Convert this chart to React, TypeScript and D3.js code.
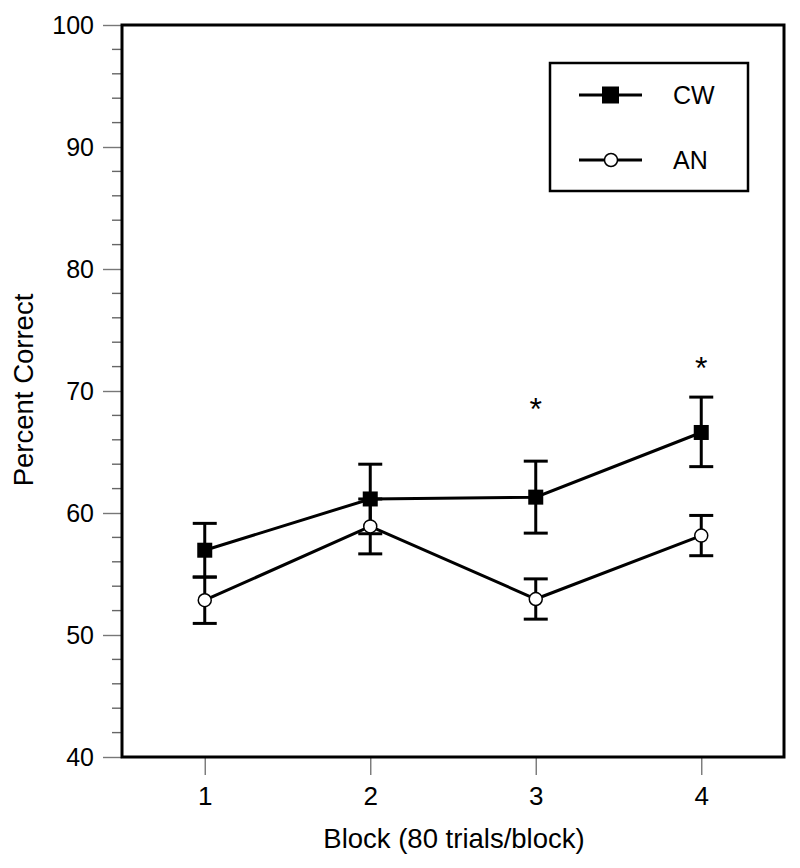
import * as d3 from "d3";
import { useEffect, useRef } from "react";

const blocks = [1, 2, 3, 4];
const cwMean = [56.95, 61.15, 61.3, 66.6];
const cwLow = [54.75, 58.3, 58.35, 63.8];
const cwHigh = [59.15, 64.0, 64.25, 69.5];
const anMean = [52.85, 58.9, 52.95, 58.15];
const anLow = [50.95, 56.65, 51.3, 56.5];
const anHigh = [54.75, 61.15, 54.6, 59.8];
const significant = [3, 4];
const yTicks = [40, 50, 60, 70, 80, 90, 100];
const legendNames = ["CW", "AN"];

const App = () => {
  const ref = useRef<SVGSVGElement>(null);

  useEffect(() => {
    const width = 800;
    const height = 868;
    const margin = { top: 25, right: 16, bottom: 111, left: 122 };
    const font = "Arial, 'Liberation Sans', sans-serif";

    const svg = d3.select(ref.current);
    svg.selectAll("*").remove();
    svg.attr("width", width).attr("height", height);

    const x = d3.scaleLinear().domain([0.5, 4.5]).range([margin.left, width - margin.right]);
    const y = d3.scaleLinear().domain([40, 100]).range([height - margin.bottom, margin.top]);

    // y axis ticks: major every 10, minor every 2
    const minor = d3.range(40, 100.1, 2).filter((v) => v % 10 !== 0);
    svg.append("g")
      .selectAll("line.minor")
      .data(minor)
      .enter().append("line")
      .attr("x1", margin.left - 10).attr("x2", margin.left)
      .attr("y1", (d) => y(d)).attr("y2", (d) => y(d))
      .attr("stroke", "#666").attr("stroke-width", 1.4);

    const yAxis = d3.axisLeft(y).tickValues(yTicks).tickSize(19).tickPadding(9);
    const gy = svg.append("g")
      .attr("transform", `translate(${margin.left},0)`)
      .call(yAxis);
    gy.select(".domain").remove();
    gy.selectAll("line").attr("stroke", "#777").attr("stroke-width", 1.4);
    gy.selectAll("text").attr("font-family", font).attr("font-size", 25).attr("fill", "#000");

    const xAxis = d3.axisBottom(x).tickValues(blocks).tickFormat(d3.format("d")).tickSize(18).tickPadding(12);
    const gx = svg.append("g")
      .attr("transform", `translate(0,${height - margin.bottom})`)
      .call(xAxis);
    gx.select(".domain").remove();
    gx.selectAll("line").attr("stroke", "#777").attr("stroke-width", 1.4);
    gx.selectAll("text").attr("font-family", font).attr("font-size", 26).attr("fill", "#000");

    // frame
    svg.append("rect")
      .attr("x", margin.left).attr("y", margin.top)
      .attr("width", width - margin.left - margin.right)
      .attr("height", height - margin.top - margin.bottom)
      .attr("fill", "none").attr("stroke", "#000").attr("stroke-width", 3);

    // axis titles
    svg.append("text")
      .attr("x", 454)
      .attr("y", 848)
      .attr("text-anchor", "middle")
      .attr("font-family", font).attr("font-size", 27.5)
      .text("Block (80 trials/block)");

    svg.append("text")
      .attr("transform", `translate(33,390) rotate(-90)`)
      .attr("text-anchor", "middle")
      .attr("font-family", font).attr("font-size", 27.5)
      .text("Percent Correct");

    const line = d3.line<number>().x((d, i) => x(blocks[i])).y((d) => y(d));

    const drawErr = (low: number[], high: number[]) => {
      const g = svg.append("g").attr("stroke", "#000").attr("stroke-width", 3);
      blocks.forEach((b, i) => {
        g.append("line").attr("x1", x(b)).attr("x2", x(b)).attr("y1", y(low[i])).attr("y2", y(high[i]));
        [low[i], high[i]].forEach((v) => {
          g.append("line").attr("x1", x(b) - 12).attr("x2", x(b) + 12).attr("y1", y(v)).attr("y2", y(v));
        });
      });
    };

    svg.append("path").attr("d", line(cwMean)).attr("fill", "none").attr("stroke", "#000").attr("stroke-width", 3);
    svg.append("path").attr("d", line(anMean)).attr("fill", "none").attr("stroke", "#000").attr("stroke-width", 3);
    drawErr(cwLow, cwHigh);
    drawErr(anLow, anHigh);

    svg.selectAll("rect.cw")
      .data(cwMean)
      .enter().append("rect")
      .attr("x", (d, i) => x(blocks[i]) - 7.5)
      .attr("y", (d) => y(d) - 7.5)
      .attr("width", 15).attr("height", 15)
      .attr("fill", "#000");

    svg.selectAll("circle.an")
      .data(anMean)
      .enter().append("circle")
      .attr("cx", (d, i) => x(blocks[i]))
      .attr("cy", (d) => y(d))
      .attr("r", 6.5)
      .attr("fill", "#fff").attr("stroke", "#000").attr("stroke-width", 1.5);

    // significance markers
    svg.selectAll("text.star")
      .data(significant)
      .enter().append("text")
      .attr("x", (d) => x(d))
      .attr("y", (d) => y(cwHigh[blocks.indexOf(d)]) + (d === 3 ? -41 : -18))
      .attr("text-anchor", "middle")
      .attr("font-family", font).attr("font-size", 32)
      .text("*");

    // legend
    const lg = svg.append("g");
    lg.append("rect")
      .attr("x", 550).attr("y", 63).attr("width", 198).attr("height", 128)
      .attr("fill", "#fff").attr("stroke", "#000").attr("stroke-width", 2.5);
    legendNames.forEach((name, i) => {
      const ly = 95 + i * 65;
      lg.append("line").attr("x1", 579).attr("x2", 642).attr("y1", ly).attr("y2", ly)
        .attr("stroke", "#000").attr("stroke-width", 3);
      if (i === 0) {
        lg.append("rect").attr("x", 602).attr("y", ly - 8.5).attr("width", 17).attr("height", 17).attr("fill", "#000");
      } else {
        lg.append("circle").attr("cx", 611).attr("cy", ly).attr("r", 6.5)
          .attr("fill", "#fff").attr("stroke", "#000").attr("stroke-width", 1.5);
      }
      lg.append("text").attr("x", 673).attr("y", ly + 9)
        .attr("font-family", font).attr("font-size", 25)
        .text(name);
    });
  }, []);

  return <svg ref={ref} style={{ position: "absolute", left: 0, top: 0 }} />;
};

export default App;
